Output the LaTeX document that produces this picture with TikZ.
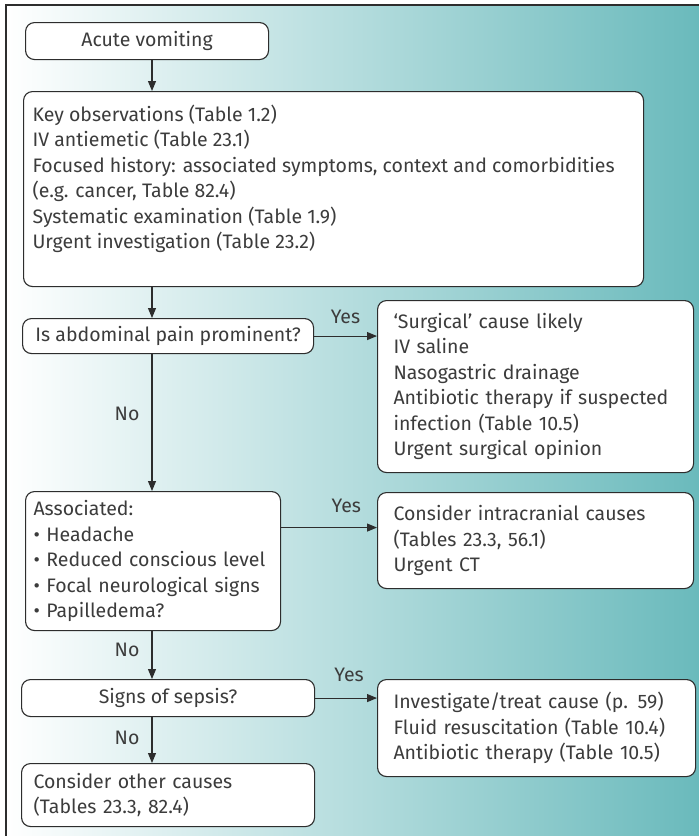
\documentclass[tikz,border=0pt]{standalone}
\usepackage{fontspec}
\setmainfont{Fira Sans}
\usetikzlibrary{arrows.meta}

\definecolor{boxline}{RGB}{45,45,45}
\definecolor{textgray}{RGB}{60,60,60}
\definecolor{panelteal}{RGB}{106,186,188}

\tikzset{
  stepbox/.style={draw=boxline, fill=white, line width=1.1pt, rounded corners=9pt,
    anchor=north west, inner ysep=0pt, text=textgray, font=\fontsize{19.5}{25.5}\selectfont},
  flowarrow/.style={draw=boxline, line width=1.1pt, -{Triangle[length=10pt,width=8pt]}},
  answer/.style={text=textgray, inner sep=0pt, font=\fontsize{19.5}{22}\selectfont},
}

\begin{document}
\begin{tikzpicture}[x=1pt, y=-1pt]
            \useasboundingbox (0,0) rectangle (699,836);
            \shade [left color=white, right color=panelteal] (6,5) rectangle (699,836);
            \draw [boxline, line width=1.6pt] (6,836) -- (6,5) -- (699,5);
            \coordinate (spine) at (152,0);

            \node [stepbox, minimum width=243pt, minimum height=37pt] (start) at (25,22) {Acute vomiting};
            \node [stepbox, inner xsep=9pt, inner ysep=13pt] (assess) at (23,91)
                  {\parbox[t][169pt][t]{602pt}{\raggedright
                   Key observations (Table 1.2)\\
                   IV antiemetic (Table 23.1)\\
                   Focused history: associated symptoms, context and comorbidities\\
                   (e.g. cancer, Table 82.4)\\
                   Systematic examination (Table 1.9)\\
                   Urgent investigation (Table 23.2)}};
            \node [stepbox, minimum width=291pt, minimum height=35pt] (abdo) at (22,318) {Is abdominal pain prominent?};
            \node [stepbox, text width=284pt, inner xsep=16pt, minimum height=172pt, align=left] (surg) at (377,300)
                  {`Surgical' cause likely\\
                   IV saline\\
                   Nasogastric drainage\\
                   Antibiotic therapy if suspected\\
                   infection (Table 10.5)\\
                   Urgent surgical opinion};
            \node [stepbox, text width=239pt, inner xsep=8pt, minimum height=139pt, align=left] (assoc) at (25,491)
                  {Associated:\\
                   \textbullet\ Headache\\
                   \textbullet\ Reduced conscious level\\
                   \textbullet\ Focal neurological signs\\
                   \textbullet\ Papilledema?};
            \node [stepbox, text width=284pt, inner xsep=16pt, minimum height=96pt, align=left] (intra) at (377,492)
                  {Consider intracranial causes\\
                   (Tables 23.3, 56.1)\\
                   Urgent CT};
            \node [stepbox, minimum width=293pt, minimum height=37pt] (sepsis) at (21,679) {Signs of sepsis?};
            \node [stepbox, text width=286pt, inner xsep=16pt, minimum height=97pt, align=left] (treat) at (377,679)
                  {Investigate/treat cause (p. 59)\\
                   Fluid resuscitation (Table 10.4)\\
                   Antibiotic therapy (Table 10.5)};
            \node [stepbox, text width=269pt, inner xsep=12pt, minimum height=63pt, align=left] (other) at (21,763)
                  {Consider other causes\\
                   (Tables 23.3, 82.4)};

            % main line down the left
            \draw [flowarrow] (start.south -| spine) -- (assess.north -| spine);
            \draw [flowarrow] (assess.south -| spine) -- (abdo.north -| spine);
            \draw [flowarrow] (abdo.south -| spine) -- node [answer, left=12pt, pos=0.435] {No} (assoc.north -| spine);
            \draw [flowarrow] (assoc.south -| spine) -- node [answer, left=12pt, pos=0.39] {No} (sepsis.north -| spine);
            \draw [flowarrow] (sepsis.south -| spine) -- node [answer, left=12pt, pos=0.45] {No} (other.north -| spine);

            % yes branches
            \draw [flowarrow] (abdo.east) -- node [answer, above=12pt] {Yes} (abdo.east -| surg.west);
            \coordinate (yesb) at ([yshift=13pt]intra.west);
            \draw [flowarrow] (yesb -| assoc.east) -- node [answer, above=14pt, pos=0.68] {Yes} (yesb);
            \draw [flowarrow] (sepsis.east) -- node [answer, above=16pt, pos=0.55] {Yes} (sepsis.east -| treat.west);
        \end{tikzpicture}
\end{document}
